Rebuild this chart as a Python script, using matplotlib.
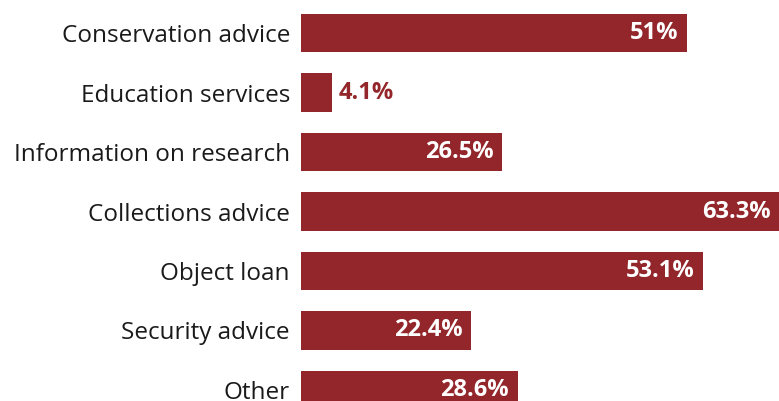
import matplotlib.pyplot as plt

categories = ["Conservation advice", "Education services", "Information on research",
              "Collections advice", "Object loan", "Security advice", "Other"]
values = [51, 4.1, 26.5, 63.3, 53.1, 22.4, 28.6]
labels = ["51%", "4.1%", "26.5%", "63.3%", "53.1%", "22.4%", "28.6%"]

red = "#93262a"
plt.rcParams['font.family'] = ['Open Sans', 'DejaVu Sans']

fig = plt.figure(figsize=(7.79, 4.01), dpi=100)
ax = fig.add_axes([301 / 779, 0, 1 - 301 / 779, 1])

ypos = list(range(len(categories)))
ax.barh(ypos, values, height=0.64, color=red)

for y, v, lab in zip(ypos, values, labels):
    if v < 10:
        ax.annotate(lab, (v, y), xytext=(5, 0), textcoords="offset points",
                    ha="left", va="center", color=red, fontsize=17,
                    fontweight="bold", annotation_clip=False)
    else:
        # the longest bar runs past the right edge, keep its label inside
        ax.annotate(lab, (min(v, 63.1), y), xytext=(-6, 0), textcoords="offset points",
                    ha="right", va="center", color="white", fontsize=17,
                    fontweight="bold", annotation_clip=False)

ax.set_xlim(0, 478 / 7.57)
ax.set_ylim(6.185, -0.555)
ax.set_yticks(ypos)
ax.set_yticklabels(categories, fontsize=17.5, color="#1a1a1a")
ax.tick_params(axis="y", length=0, pad=8)
ax.set_xticks([])
for s in ax.spines.values():
    s.set_visible(False)

fig.savefig("out.png", dpi=100)
